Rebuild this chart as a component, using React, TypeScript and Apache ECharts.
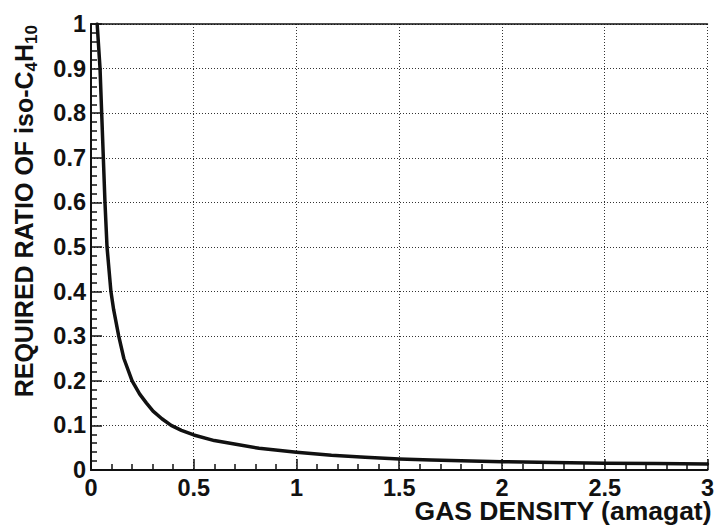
import React, { useEffect, useRef } from "react";
import * as echarts from "echarts";

const densityValues = [
  0.03, 0.044, 0.052, 0.06, 0.068, 0.078, 0.097, 0.11, 0.135, 0.16, 0.2, 0.237,
  0.27, 0.302, 0.345, 0.39, 0.44, 0.5, 0.6, 0.705, 0.818, 1.0, 1.17, 1.334, 1.5,
  1.656, 1.85, 2.0, 2.25, 2.5, 2.75, 3.0,
];
const ratioValues = [
  1.0, 0.9, 0.8, 0.7, 0.6, 0.5, 0.4, 0.36, 0.3, 0.25, 0.2, 0.17, 0.15, 0.132,
  0.115, 0.1, 0.089, 0.0785, 0.066, 0.0576, 0.0486, 0.0397, 0.033, 0.0285, 0.0247,
  0.0222, 0.02, 0.0187, 0.0168, 0.015, 0.0143, 0.0135,
];
const xTitle = "GAS DENSITY (amagat)";
const yTitleMain = "REQUIRED RATIO OF iso-C";

const FONT = '"Liberation Sans", Arial, Helvetica, sans-serif';

export default function App() {
  const ref = useRef<HTMLDivElement>(null);
  useEffect(() => {
    if (!ref.current) return;
    const chart = echarts.init(ref.current, undefined, { renderer: "svg" });
    const data = densityValues.map((x, i) => [x, ratioValues[i]]);
    const dotted = { show: true, lineStyle: { color: "#333", width: 1, type: [1, 2] as any } };
    chart.setOption({
      animation: false,
      backgroundColor: "#fff",
      grid: { left: 91, right: 6, top: 24, bottom: 55 },
      xAxis: [
        {
          type: "value",
          min: 0,
          max: 3,
          interval: 0.5,
          axisLine: { show: true, onZero: false, lineStyle: { color: "#111", width: 2 } },
          axisTick: { show: true, inside: true, length: 11, lineStyle: { color: "#111", width: 1.5 } },
          minorTick: { show: true, splitNumber: 5, length: 6, lineStyle: { color: "#111", width: 1.5 } },
          axisLabel: {
            color: "#111",
            fontFamily: FONT,
            fontWeight: "bold",
            fontSize: 23.5,
            lineHeight: 20,
            margin: 8,
            formatter: (v: number) => String(v),
          },
          splitLine: dotted,
        },
        {
          type: "value",
          position: "top",
          min: 0,
          max: 3,
          interval: 0.5,
          axisLine: { show: true, onZero: false, lineStyle: { color: "#111", width: 1.5 } },
          axisTick: { show: false },
          axisLabel: { show: false },
          splitLine: { show: false },
        },
      ],
      yAxis: {
        type: "value",
        min: 0,
        max: 1,
        interval: 0.1,
        axisLine: { show: true, onZero: false, lineStyle: { color: "#111", width: 2 } },
        axisTick: { show: true, inside: true, length: 11, lineStyle: { color: "#111", width: 1.5 } },
        minorTick: { show: true, splitNumber: 5, length: 6, lineStyle: { color: "#111", width: 1.5 } },
        axisLabel: {
          color: "#111",
          fontFamily: FONT,
          fontWeight: "bold",
          fontSize: 23.5,
          margin: 5,
          formatter: (v: number) => String(Math.round(v * 10) / 10),
        },
        splitLine: dotted,
      },
      series: [
        {
          type: "line",
          xAxisIndex: 0,
          data,
          smooth: false,
          showSymbol: false,
          lineStyle: { color: "#111", width: 3.5, join: "round", cap: "round" },
          clip: true,
        },
      ],
      graphic: [
        {
          type: "text",
          right: 5,
          top: 497,
          style: {
            text: xTitle,
            fill: "#111",
            font: `bold 26.5px ${FONT}`,
          },
        },
        {
          type: "text",
          x: 24,
          y: 25,
          rotation: Math.PI / 2,
          style: {
            text: `{a|${yTitleMain}}{s|4}{a|H}{s|10}`,
            align: "right",
            verticalAlign: "middle",
            rich: {
              a: { fontFamily: FONT, fontWeight: "bold", fontSize: 25, fill: "#111", lineHeight: 28 },
              s: {
                fontFamily: FONT,
                fontWeight: "bold",
                fontSize: 17,
                fill: "#111",
                lineHeight: 28,
                padding: [14, 0, 0, 0],
              },
            },
          },
        },
      ],
    });
    return () => chart.dispose();
  }, []);
  return (
    <div
      ref={ref}
      style={{ position: "fixed", left: 0, top: 0, width: 717, height: 525, background: "#fff" }}
    />
  );
}
